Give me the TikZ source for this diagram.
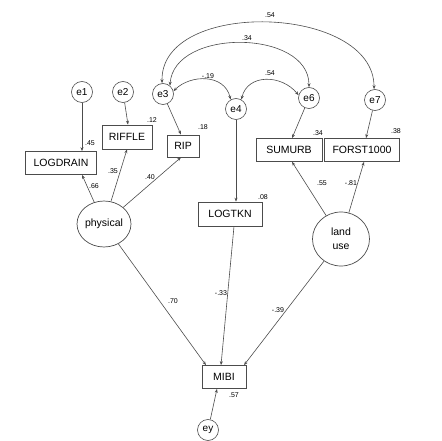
\documentclass[tikz,border=0pt]{standalone}
\usepackage{fontspec}
\setmainfont{Liberation Sans}
\usetikzlibrary{arrows.meta,calc,shapes.geometric}
\begin{document}
\begin{tikzpicture}[x=1pt,y=-1pt,
  line/.style={draw=black!70, line width=0.6pt},
  arr/.style={line, -{Stealth[length=4pt,width=3pt]}},
  darr/.style={line, {Stealth[length=4pt,width=3pt]}-{Stealth[length=4pt,width=3pt]}},
  obs/.style={draw=black!70, line width=0.7pt, rectangle, inner sep=0pt, text=black, font=\fontsize{10.5}{12}\selectfont},
  err/.style={draw=black!70, line width=0.6pt, circle, minimum size=21pt, inner sep=0pt, text=black, font=\fontsize{10}{12}\selectfont},
  lat/.style={draw=black!70, line width=0.7pt, ellipse, inner sep=0pt, text=black, font=\fontsize{10.5}{14}\selectfont},
  lab/.style={font=\fontsize{7}{8}\selectfont, inner sep=0pt, text=black}
]
\useasboundingbox (0,0) rectangle (442,441);

% error terms
\node[err] (e1) at (82,92) {e1};
\node[err] (e2) at (123,92) {e2};
\node[err] (e3) at (163,94) {e3};
\node[err] (e4) at (236,109) {e4};
\node[err] (e6) at (309,98) {e6};
\node[err] (e7) at (375,100) {e7};
\node[err] (ey) at (208,430) {ey};

% observed variables
\node[obs, minimum width=71pt, minimum height=23pt] (LOGDRAIN) at (61,163) {LOGDRAIN};
\node[obs, minimum width=50pt, minimum height=24pt] (RIFFLE) at (127,137) {RIFFLE};
\node[obs, minimum width=32pt, minimum height=22pt] (RIP) at (183,146) {RIP};
\node[obs, minimum width=66pt, minimum height=23pt] (SUMURB) at (289,150) {SUMURB};
\node[obs, minimum width=75pt, minimum height=23pt] (FORST) at (362,150) {FORST1000};
\node[obs, minimum width=64pt, minimum height=24pt] (LOGTKN) at (230,214) {LOGTKN};
\node[obs, minimum width=44pt, minimum height=23pt] (MIBI) at (224,377) {MIBI};

% latent variables
\node[lat, minimum width=54pt, minimum height=46pt] (phys) at (104,224) {physical};
\node[lat, minimum width=57pt, minimum height=54pt, align=center] (land) at (341,239) {land\\use};

% error paths
\draw[arr] (e1) -- (e1 |- LOGDRAIN.north);
\draw[arr] (e2) -- ([xshift=1pt]RIFFLE.north);
\draw[arr] (e3) -- ([xshift=-2pt]RIP.north);
\draw[arr] (e4) -- (e4 |- LOGTKN.north);
\draw[arr] (e6) -- ([xshift=3pt]SUMURB.north);
\draw[arr] (e7) -- ([xshift=4pt]FORST.north);
\draw[arr] (ey) -- ([xshift=-7pt]MIBI.south);

% loadings
\draw[arr] (phys) -- (e1 |- LOGDRAIN.south);
\draw[arr] (phys) -- (RIFFLE.south);
\draw[arr] (phys) -- ([xshift=-2pt]RIP.south);
\draw[arr] (land) -- ([xshift=3pt]SUMURB.south);
\draw[arr] (land) -- ([xshift=2pt]FORST.south);

% structural paths
\draw[arr] (phys) -- ([xshift=-18pt]MIBI.north);
\draw[arr] ([xshift=4pt]LOGTKN.south) -- ([xshift=-3pt]MIBI.north);
\draw[arr] (land) -- ([xshift=20pt]MIBI.north);

% covariances
\draw[darr] (e3.95) .. controls +(-2,-85) and +(0,-85) .. (e7.95);
\draw[darr] (e3.50) .. controls +(4,-58) and +(0,-58) .. (e6.90);
\draw[darr] (e3.15) .. controls +(17,-17) and +(-6,-26) .. (e4.120);
\draw[darr] (e4.60) .. controls +(6,-26) and +(-17,-21) .. (e6.165);

% labels
\node[lab] (l1) at (270,15) {.54};
\node[lab] (l2) at (247,38) {.34};
\node[lab] (l3) at (208,76) {-.19};
\node[lab] (l4) at (270,73) {.54};
\node[lab] (l5) at (152,120) {.12};
\node[lab] (l6) at (203,127) {.18};
\node[lab] (l7) at (90,143) {.45};
\node[lab] (l8) at (318,133) {.34};
\node[lab] (l9) at (396,131) {.38};
\node[lab] (l10) at (94,186) {.66};
\node[lab] (l11) at (113,171) {.35};
\node[lab] (l12) at (150,177) {.40};
\node[lab] (l13) at (322,183) {.55};
\node[lab] (l14) at (351,183) {-.81};
\node[lab] (l15) at (263,197) {.08};
\node[lab] (l16) at (173,301) {.70};
\node[lab] (l17) at (221,293) {-.33};
\node[lab] (l18) at (278,310) {-.39};
\node[lab] (l19) at (234,395) {.57};
\end{tikzpicture}
\end{document}
